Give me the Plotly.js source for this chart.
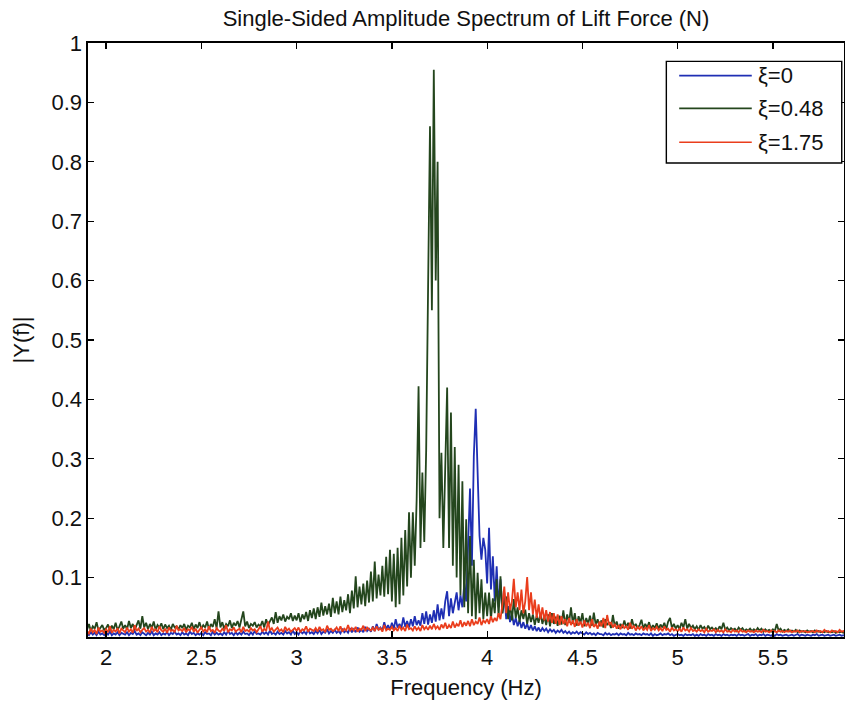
<!DOCTYPE html>
<html>
<head>
<meta charset="utf-8">
<script src="https://cdn.plot.ly/plotly-3.0.1.min.js"></script>
<style>
  html, body { margin: 0; padding: 0; background: #fff; }
  #chart { width: 845px; height: 702px; }
</style>
</head>
<body>
<div id="chart"></div>
<script>
// ---- data ----
const freqStart = 1.90;   // Hz, first frequency bin
const freqStep = 0.01;    // Hz, bin spacing
const seriesNames = ["ξ=0", "ξ=0.48", "ξ=1.75"];
const seriesColors = ["#1f2fb4", "#24461d", "#ea3d1c"];
const xTickVals = [2, 2.5, 3, 3.5, 4, 4.5, 5, 5.5];
const xTickText = ["2", "2.5", "3", "3.5", "4", "4.5", "5", "5.5"];
const yTickVals = [0.1, 0.2, 0.3, 0.4, 0.5, 0.6, 0.7, 0.8, 0.9, 1];
const yTickText = ["0.1", "0.2", "0.3", "0.4", "0.5", "0.6", "0.7", "0.8", "0.9", "1"];

// |Y(f)| for xi = 0 (blue)
const amp0 = [
0.006,0.003,0.008,0.004,0.007,0.003,0.009,0.004,0.006,0.003,
0.007,0.004,0.009,0.003,0.006,0.004,0.008,0.003,0.007,0.005,
0.004,0.008,0.003,0.007,0.005,0.010,0.004,0.006,0.003,0.008,
0.005,0.003,0.007,0.004,0.009,0.003,0.006,0.004,0.008,0.003,
0.006,0.004,0.008,0.003,0.007,0.005,0.009,0.004,0.006,0.003,
0.008,0.004,0.006,0.003,0.009,0.005,0.007,0.003,0.006,0.004,
0.007,0.003,0.008,0.005,0.006,0.003,0.009,0.004,0.007,0.004,
0.006,0.003,0.008,0.004,0.010,0.005,0.007,0.003,0.008,0.004,
0.007,0.004,0.009,0.005,0.006,0.003,0.008,0.004,0.010,0.005,
0.006,0.004,0.009,0.005,0.008,0.004,0.011,0.005,0.007,0.004,
0.009,0.005,0.007,0.004,0.010,0.006,0.008,0.004,0.011,0.005,
0.008,0.004,0.010,0.006,0.009,0.005,0.012,0.006,0.008,0.005,
0.010,0.006,0.012,0.005,0.009,0.007,0.013,0.006,0.010,0.007,
0.012,0.007,0.010,0.006,0.014,0.008,0.011,0.007,0.015,0.008,
0.013,0.008,0.016,0.009,0.012,0.008,0.017,0.010,0.014,0.009,
0.018,0.010,0.022,0.012,0.016,0.011,0.025,0.013,0.020,0.012,
0.024,0.014,0.030,0.016,0.022,0.015,0.033,0.017,0.027,0.016,
0.030,0.018,0.035,0.020,0.028,0.019,0.040,0.022,0.043,0.021,
0.038,0.024,0.045,0.026,0.055,0.028,0.048,0.030,0.060,0.077,
0.035,0.065,0.040,0.055,0.075,0.045,0.070,0.050,0.090,0.060,
0.164,0.250,0.120,0.304,0.384,0.293,0.170,0.130,0.167,0.147,
0.090,0.184,0.080,0.136,0.060,0.119,0.050,0.097,0.040,0.075,
0.030,0.052,0.025,0.040,0.020,0.032,0.018,0.028,0.015,0.025,
0.014,0.022,0.012,0.020,0.011,0.018,0.010,0.016,0.009,0.015,
0.010,0.014,0.008,0.013,0.009,0.012,0.007,0.011,0.008,0.012,
0.007,0.010,0.006,0.009,0.005,0.008,0.006,0.009,0.005,0.008,
0.006,0.004,0.008,0.005,0.007,0.004,0.006,0.003,0.007,0.005,
0.005,0.003,0.007,0.004,0.006,0.003,0.005,0.004,0.006,0.003,
0.006,0.004,0.005,0.003,0.007,0.004,0.005,0.003,0.006,0.004,
0.005,0.003,0.006,0.004,0.005,0.003,0.006,0.002,0.005,0.003,
0.004,0.006,0.003,0.005,0.004,0.006,0.003,0.005,0.002,0.004,
0.005,0.003,0.004,0.002,0.005,0.003,0.004,0.003,0.005,0.002,
0.004,0.002,0.005,0.003,0.004,0.002,0.005,0.003,0.004,0.002,
0.005,0.003,0.004,0.002,0.005,0.003,0.004,0.002,0.004,0.003,
0.004,0.002,0.005,0.003,0.004,0.002,0.003,0.005,0.002,0.004,
0.003,0.005,0.002,0.004,0.003,0.005,0.002,0.004,0.003,0.002,
0.004,0.002,0.005,0.003,0.004,0.002,0.003,0.004,0.002,0.003,
0.004,0.002,0.003,0.005,0.002,0.004,0.003,0.002,0.004,0.003,
0.002,0.004,0.003,0.005,0.002,0.003,0.004,0.002,0.003,0.004,
0.002,0.003,0.004,0.002,0.003,0.004,0.002,0.003,0.002
];

// |Y(f)| for xi = 0.48 (green)
const amp048 = [
0.012,0.022,0.010,0.018,0.014,0.025,0.011,0.016,0.020,0.012,
0.015,0.021,0.011,0.019,0.013,0.024,0.012,0.018,0.026,0.014,
0.020,0.013,0.027,0.015,0.022,0.012,0.019,0.028,0.014,0.035,
0.016,0.024,0.013,0.022,0.015,0.026,0.012,0.020,0.016,0.023,
0.013,0.021,0.015,0.019,0.012,0.022,0.016,0.018,0.013,0.020,
0.015,0.022,0.012,0.019,0.016,0.024,0.013,0.021,0.015,0.025,
0.014,0.020,0.016,0.026,0.013,0.022,0.017,0.030,0.015,0.043,
0.016,0.025,0.014,0.022,0.018,0.028,0.015,0.024,0.019,0.027,
0.016,0.030,0.043,0.018,0.026,0.015,0.022,0.019,0.025,0.016,
0.021,0.018,0.027,0.016,0.030,0.020,0.026,0.033,0.022,0.042,
0.024,0.035,0.028,0.038,0.026,0.034,0.030,0.040,0.027,0.036,
0.028,0.040,0.025,0.038,0.030,0.042,0.027,0.045,0.032,0.048,
0.030,0.050,0.034,0.058,0.036,0.052,0.038,0.056,0.034,0.066,
0.040,0.060,0.038,0.068,0.042,0.062,0.045,0.072,0.040,0.078,
0.048,0.102,0.050,0.085,0.055,0.090,0.052,0.095,0.058,0.110,
0.060,0.127,0.065,0.105,0.070,0.120,0.068,0.135,0.072,0.147,
0.060,0.140,0.050,0.150,0.055,0.167,0.070,0.180,0.085,0.210,
0.100,0.210,0.120,0.231,0.422,0.150,0.277,0.160,0.315,0.590,
0.860,0.550,0.955,0.600,0.800,0.200,0.310,0.150,0.300,0.420,
0.150,0.378,0.120,0.320,0.100,0.290,0.070,0.262,0.050,0.198,
0.040,0.170,0.035,0.130,0.030,0.108,0.040,0.097,0.030,0.075,
0.035,0.075,0.030,0.065,0.040,0.097,0.035,0.102,0.040,0.060,
0.068,0.030,0.055,0.028,0.064,0.032,0.050,0.025,0.045,0.030,
0.046,0.022,0.040,0.025,0.038,0.020,0.036,0.024,0.040,0.022,
0.035,0.020,0.038,0.018,0.040,0.022,0.034,0.019,0.036,0.021,
0.045,0.020,0.038,0.024,0.050,0.022,0.040,0.019,0.035,0.024,
0.040,0.018,0.032,0.022,0.036,0.019,0.041,0.020,0.030,0.018,
0.028,0.016,0.030,0.020,0.025,0.015,0.037,0.018,0.026,0.014,
0.022,0.015,0.028,0.016,0.024,0.014,0.030,0.017,0.022,0.015,
0.020,0.029,0.014,0.022,0.016,0.025,0.013,0.020,0.015,0.023,
0.014,0.021,0.016,0.024,0.013,0.026,0.032,0.015,0.022,0.014,
0.020,0.013,0.024,0.016,0.030,0.014,0.022,0.015,0.019,0.013,
0.018,0.012,0.020,0.014,0.017,0.011,0.019,0.013,0.016,0.012,
0.015,0.011,0.018,0.013,0.024,0.012,0.016,0.011,0.015,0.012,
0.014,0.010,0.016,0.012,0.015,0.010,0.013,0.011,0.014,0.010,
0.013,0.010,0.015,0.011,0.014,0.009,0.013,0.010,0.012,0.009,
0.013,0.010,0.022,0.011,0.014,0.009,0.012,0.010,0.013,0.009,
0.011,0.009,0.012,0.008,0.011,0.009,0.010,0.008,0.011,0.009,
0.010,0.008,0.011,0.009,0.010,0.008,0.009,0.008,0.010,0.008,
0.009,0.008,0.010,0.007,0.009,0.008,0.009,0.007,0.008
];

// |Y(f)| for xi = 1.75 (red)
const amp175 = [
0.010,0.006,0.014,0.008,0.012,0.005,0.016,0.009,0.011,0.007,
0.013,0.008,0.018,0.007,0.012,0.009,0.015,0.006,0.014,0.010,
0.008,0.016,0.009,0.013,0.007,0.020,0.010,0.014,0.008,0.012,
0.015,0.009,0.012,0.007,0.017,0.010,0.013,0.008,0.018,0.011,
0.009,0.014,0.007,0.016,0.010,0.012,0.008,0.019,0.011,0.013,
0.010,0.015,0.008,0.013,0.011,0.017,0.009,0.014,0.007,0.012,
0.016,0.009,0.013,0.008,0.018,0.010,0.012,0.007,0.015,0.011,
0.009,0.014,0.010,0.020,0.008,0.013,0.011,0.016,0.009,0.012,
0.014,0.008,0.017,0.010,0.012,0.009,0.015,0.011,0.013,0.008,
0.012,0.018,0.009,0.014,0.010,0.026,0.011,0.015,0.009,0.013,
0.016,0.010,0.013,0.008,0.017,0.011,0.014,0.009,0.012,0.015,
0.010,0.016,0.008,0.013,0.011,0.018,0.009,0.014,0.012,0.010,
0.015,0.009,0.017,0.011,0.013,0.008,0.019,0.012,0.014,0.010,
0.012,0.016,0.010,0.018,0.009,0.014,0.011,0.020,0.010,0.015,
0.011,0.017,0.009,0.014,0.012,0.019,0.010,0.016,0.013,0.011,
0.016,0.010,0.018,0.012,0.015,0.009,0.020,0.011,0.014,0.012,
0.017,0.011,0.015,0.010,0.019,0.012,0.016,0.010,0.021,0.013,
0.015,0.011,0.018,0.012,0.016,0.010,0.020,0.013,0.017,0.012,
0.019,0.013,0.022,0.014,0.018,0.012,0.021,0.015,0.024,0.014,
0.020,0.015,0.026,0.016,0.022,0.018,0.028,0.017,0.025,0.019,
0.027,0.018,0.030,0.020,0.026,0.022,0.033,0.020,0.028,0.024,
0.030,0.022,0.035,0.025,0.032,0.027,0.040,0.030,0.055,0.085,
0.040,0.075,0.045,0.060,0.098,0.050,0.075,0.045,0.080,0.040,
0.060,0.101,0.045,0.075,0.038,0.063,0.032,0.055,0.030,0.050,
0.028,0.045,0.026,0.042,0.024,0.040,0.022,0.038,0.020,0.035,
0.022,0.030,0.018,0.032,0.020,0.028,0.017,0.030,0.019,0.026,
0.016,0.028,0.018,0.024,0.015,0.030,0.017,0.022,0.014,0.026,
0.018,0.032,0.015,0.037,0.020,0.025,0.016,0.022,0.014,0.020,
0.013,0.021,0.015,0.018,0.012,0.024,0.014,0.019,0.011,0.017,
0.013,0.018,0.011,0.016,0.012,0.020,0.010,0.015,0.012,0.017,
0.011,0.015,0.010,0.018,0.012,0.014,0.009,0.016,0.011,0.013,
0.010,0.014,0.009,0.016,0.011,0.013,0.009,0.015,0.010,0.012,
0.009,0.013,0.010,0.012,0.008,0.014,0.009,0.011,0.010,0.013,
0.008,0.012,0.009,0.011,0.008,0.013,0.009,0.010,0.008,0.012,
0.009,0.011,0.008,0.012,0.009,0.010,0.008,0.011,0.009,0.010,
0.008,0.011,0.009,0.010,0.008,0.012,0.009,0.010,0.008,0.011,
0.009,0.010,0.008,0.011,0.009,0.010,0.008,0.010,0.009,0.011,
0.008,0.010,0.009,0.011,0.008,0.010,0.009,0.010,0.008,0.009,
0.009,0.010,0.008,0.011,0.009,0.010,0.008,0.012,0.009,0.010,
0.008,0.011,0.009,0.010,0.008,0.012,0.009,0.010,0.008
];

// ---- build the figure ----
const seriesValues = [amp0, amp048, amp175];
const freq = amp0.map((_, i) => +(freqStart + i * freqStep).toFixed(2));

const FONT = "Liberation Sans, Arial, Helvetica, sans-serif";

const traces = seriesValues.map((vals, k) => ({
  type: "scatter",
  mode: "lines",
  name: seriesNames[k],
  x: freq,
  y: vals,
  line: { color: seriesColors[k], width: 1.8 },
  showlegend: false,
  hoverinfo: "x+y+name"
}));

// custom legend (long line samples like the reference), in paper coordinates
const legBox = { x0: 0.765, x1: 0.997, y0: 0.798, y1: 0.969 };
const legRowsY = [0.945, 0.890, 0.833];
const shapes = [{
  type: "rect", xref: "paper", yref: "paper",
  x0: legBox.x0, x1: legBox.x1, y0: legBox.y0, y1: legBox.y1,
  line: { color: "#000", width: 1.4 }, fillcolor: "#fff", layer: "above"
}];
const annotations = [];
seriesNames.forEach((nm, k) => {
  shapes.push({
    type: "line", xref: "paper", yref: "paper",
    x0: 0.782, x1: 0.878, y0: legRowsY[k], y1: legRowsY[k],
    line: { color: seriesColors[k], width: 1.6 }, layer: "above"
  });
  annotations.push({
    xref: "paper", yref: "paper", x: 0.884, y: legRowsY[k],
    xanchor: "left", yanchor: "middle", showarrow: false,
    text: nm, font: { family: FONT, size: 22, color: "#111" }
  });
});

const layout = {
  width: 845, height: 702,
  margin: { l: 88, r: 1, t: 43, b: 65 },
  paper_bgcolor: "#fff", plot_bgcolor: "#fff",
  font: { family: FONT, size: 22, color: "#111" },
  title: {
    text: "Single-Sided Amplitude Spectrum of Lift Force (N)",
    font: { family: FONT, size: 22, color: "#111" },
    x: 0.5, xref: "paper", y: 1 - 18 / 702, yref: "container", yanchor: "middle"
  },
  xaxis: {
    range: [1.905, 5.873],
    tickmode: "array", tickvals: xTickVals, ticktext: xTickText,
    ticks: "inside", ticklen: 6, tickwidth: 1.3, tickcolor: "#000",
    showline: true, linecolor: "#000", linewidth: 1.6, mirror: "ticks",
    showgrid: false, zeroline: false,
    tickfont: { family: FONT, size: 22, color: "#111" },
    title: { text: "Frequency (Hz)", font: { family: FONT, size: 22, color: "#111" }, standoff: 10 }
  },
  yaxis: {
    range: [0, 1],
    tickmode: "array", tickvals: yTickVals, ticktext: yTickText,
    ticks: "inside", ticklen: 6, tickwidth: 1.3, tickcolor: "#000",
    showline: true, linecolor: "#000", linewidth: 1.6, mirror: "ticks",
    showgrid: false, zeroline: false,
    tickfont: { family: FONT, size: 22, color: "#111" },
    title: { text: "|Y(f)|", font: { family: FONT, size: 22, color: "#111" }, standoff: 16 }
  },
  shapes: shapes,
  annotations: annotations,
  showlegend: false
};

Plotly.newPlot("chart", traces, layout, { displayModeBar: false, staticPlot: true });
</script>
</body>
</html>
